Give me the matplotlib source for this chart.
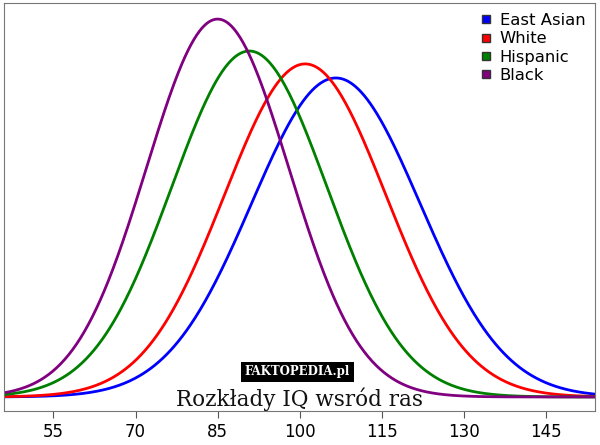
import numpy as np
import matplotlib
matplotlib.use("Agg")
import matplotlib.pyplot as plt

# Rozkłady IQ - parametry
grupy = ["East Asian", "White", "Hispanic", "Black"]
srednie = [106.6, 101.0, 90.8, 85.0]
odchylenia = [15.4, 14.75, 14.2, 13.0]
kolory = ["#0000ff", "#ff0000", "#008000", "#800080"]
ticki = [55, 70, 85, 100, 115, 130, 145]

x = np.linspace(46, 154, 600)

fig = plt.figure(figsize=(6, 4.45), dpi=100)
ax = fig.add_axes([0.007, 0.0764, 0.985, 0.9162])

for nazwa, m, s, c in zip(grupy, srednie, odchylenia, kolory):
    y = np.exp(-0.5 * ((x - m) / s) ** 2) / (s * np.sqrt(2 * np.pi))
    ax.plot(x, y, color=c, lw=2, label=nazwa)

ax.set_xlim(46, 154)
ax.set_ylim(-0.00114, 0.03197)
ax.set_xticks(ticki)
ax.set_xticklabels([str(t) for t in ticki], fontsize=12)
ax.set_yticks([])
ax.tick_params(axis="x", direction="out", length=5, color="#555555")
for sp in ax.spines.values():
    sp.set_color("#777777")

# legenda z kwadratowymi znacznikami
uchwyty = [plt.Line2D([], [], marker="s", ls="", color=c, markeredgecolor="#333333",
                      markersize=6) for c in kolory]
ax.legend(uchwyty, grupy, loc="upper right", frameon=False, fontsize=11.8,
          handlelength=0.7, handletextpad=0.5, labelspacing=0.2,
          borderaxespad=0.2)

ax.text(99.6, 0.00203, "FAKTOPEDIA.pl", family="DejaVu Serif", fontweight="bold",
        fontsize=8.5, color="white", ha="center", va="center",
        bbox=dict(facecolor="black", edgecolor="none", pad=2.5))
ax.text(100, -0.0002, "Rozkłady IQ wsród ras", family="DejaVu Serif",
        fontsize=15.5, color="#111111", ha="center", va="center")

fig.savefig("out.png", dpi=100)
